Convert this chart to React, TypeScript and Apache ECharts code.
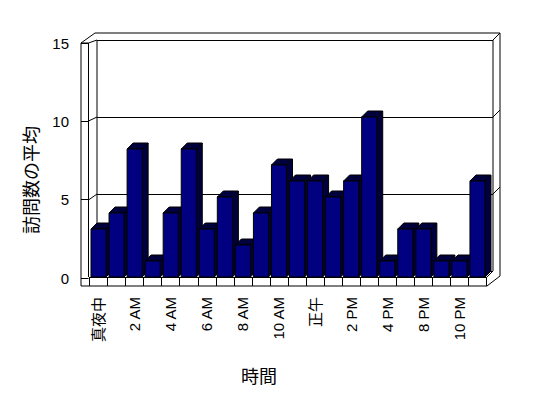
import React, { useEffect, useRef } from "react";
import * as echarts from "echarts";

const categories = [
  "真夜中", "1 AM", "2 AM", "3 AM", "4 AM", "5 AM", "6 AM", "7 AM", "8 AM", "9 AM",
  "10 AM", "11 AM", "正午", "1 PM", "2 PM", "3 PM", "4 PM", "5 PM", "8 PM", "9 PM",
  "10 PM", "11 PM",
];
const visits = [3, 4, 8, 1, 4, 8, 3, 5, 2, 4, 7, 6, 6, 5, 6, 10, 1, 3, 3, 1, 1, 6];
const yTicks = [0, 5, 10, 15];
const xTitle = "時間";
const yTitle = "訪問数の平均";

const FONT = "Liberation Sans, Noto Sans CJK JP, sans-serif";

export default function App() {
  const ref = useRef<HTMLDivElement>(null);
  useEffect(() => {
    if (!ref.current) return;
    const chart = echarts.init(ref.current, null, { renderer: "svg" });
    const yMax = yTicks[yTicks.length - 1];
    const line = (x1: number, y1: number, x2: number, y2: number) => ({
      type: "line",
      z: 0,
      shape: { x1, y1, x2, y2 },
      style: { stroke: "#000", lineWidth: 1 },
    });
    const option: any = {
      animation: false,
      backgroundColor: "#fff",
      grid: [
        { left: 89.5, right: 61.5, top: 37, bottom: 121 },
        { left: 81, width: 7.5, top: 43, bottom: 120 },
        { left: 97, right: 55, top: 40, bottom: 127 },
      ],
      xAxis: [
        {
          type: "category",
          gridIndex: 0,
          data: categories,
          axisLine: { show: true, lineStyle: { color: "#000", width: 1 } },
          axisTick: { show: true, length: 9, interval: 0, lineStyle: { color: "#000" } },
          axisLabel: {
            interval: 1,
            rotate: 90,
            margin: 20,
            fontSize: 15,
            color: "#000",
            fontFamily: FONT,
          },
        },
        { type: "value", gridIndex: 1, show: false },
        { type: "value", gridIndex: 2, show: false },
      ],
      yAxis: [
        { type: "value", gridIndex: 0, min: 0, max: yMax, show: false },
        {
          type: "value",
          gridIndex: 1,
          min: 0,
          max: yMax,
          interval: 5,
          axisLine: { show: false },
          axisTick: { show: false },
          splitLine: { show: true, lineStyle: { color: "#000", width: 1 } },
          axisLabel: { fontSize: 15, color: "#000", margin: 12, fontFamily: FONT },
        },
        {
          type: "value",
          gridIndex: 2,
          min: 0,
          max: yMax,
          interval: 5,
          axisLine: { show: false },
          axisTick: { show: false },
          axisLabel: { show: false },
          splitLine: { show: true, lineStyle: { color: "#000", width: 1 } },
        },
      ],
      graphic: [
        line(81, 43, 81, 286),
        line(81, 286, 487, 286),
        line(487, 286, 500, 276),
        line(500, 276, 500, 33),
        line(500, 33, 95, 33),
        line(95, 33, 81, 43),
        line(81, 43, 88.5, 43),
        line(88.5, 43, 88.5, 277),
        line(88.5, 43, 97, 40),
        line(97, 40, 97, 271),
        line(493, 40, 500, 33),
        line(493, 40, 493, 271),
        line(88.5, 121, 97, 117),
        line(88.5, 200, 97, 194),
        line(493, 117, 500, 110),
        line(493, 194, 500, 187),
        line(487, 277, 493, 271),
        {
          type: "text",
          x: 259,
          y: 375,
          style: {
            text: xTitle,
            fontSize: 18,
            fill: "#000",
            align: "center",
            verticalAlign: "middle",
            fontFamily: "Noto Sans CJK JP, sans-serif",
          },
        },
        {
          type: "text",
          x: 29.5,
          y: 180,
          rotation: Math.PI / 2,
          style: {
            text: yTitle,
            fontSize: 18,
            fill: "#000",
            align: "center",
            verticalAlign: "middle",
            fontFamily: "Noto Sans CJK JP, sans-serif",
          },
        },
      ],
      series: [
        {
          type: "custom",
          xAxisIndex: 0,
          yAxisIndex: 0,
          z: 5,
          data: visits.map((v, i) => [i, v]),
          encode: { x: 0, y: 1 },
          renderItem: (params: any, api: any) => {
            const i = api.value(0);
            const v = api.value(1);
            const top = api.coord([i, v]);
            const base = api.coord([i, 0]);
            const bw = api.size([1, 0])[0];
            const w = (bw * 15) / 18;
            const x0 = top[0] - w / 2;
            const x1 = x0 + w;
            const yT = top[1];
            const yB = base[1];
            const dx = 6;
            const dy = 6;
            const dark = "#00003c";
            return {
              type: "group",
              children: [
                {
                  type: "polygon",
                  shape: { points: [[x1, yB], [x1 + dx, yB - dy], [x1 + dx, yT - dy], [x1, yT]] },
                  style: { fill: dark, stroke: "#000", lineWidth: 1 },
                },
                {
                  type: "polygon",
                  shape: { points: [[x0, yT], [x0 + dx, yT - dy], [x1 + dx, yT - dy], [x1, yT]] },
                  style: { fill: dark, stroke: "#000", lineWidth: 1 },
                },
                {
                  type: "rect",
                  shape: { x: x0, y: yT, width: w, height: yB - yT },
                  style: { fill: "#000080", stroke: "#000", lineWidth: 1 },
                },
              ],
            };
          },
        },
      ],
    };
    chart.setOption(option);
    return () => chart.dispose();
  }, []);
  return (
    <div
      ref={ref}
      style={{ position: "absolute", left: 0, top: 0, width: 548, height: 398, background: "#fff" }}
    />
  );
}
